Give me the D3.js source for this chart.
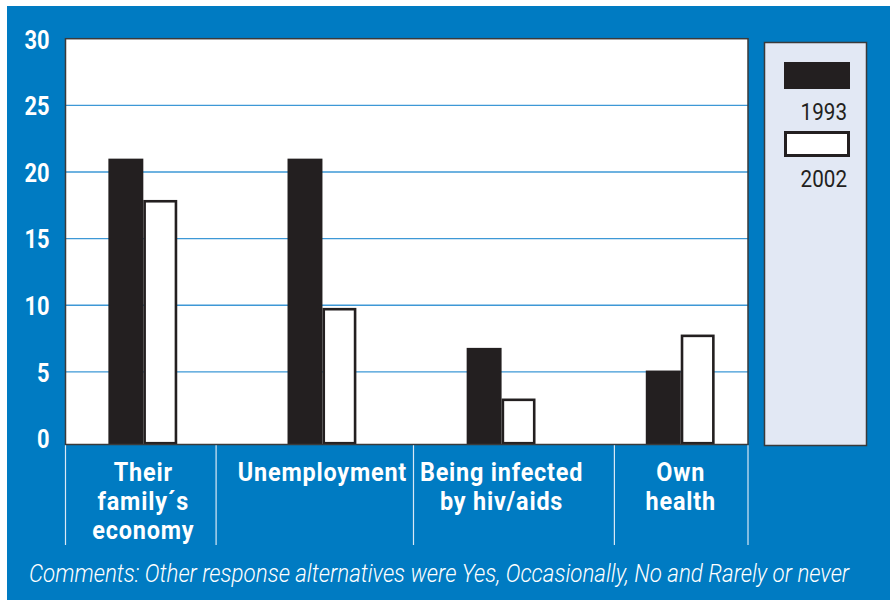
<!DOCTYPE html>
<html>
<head>
<meta charset="utf-8">
<script src="https://cdn.jsdelivr.net/npm/d3@7"></script>
<style>
  html, body { margin: 0; padding: 0; background: #ffffff; }
  svg { display: block; }
  text { font-family: Roboto, "Liberation Sans", "DejaVu Sans", sans-serif; }
</style>
</head>
<body>
<svg id="chart" width="890" height="600"></svg>
<script>
// Share of respondents worried about each issue, by survey year
const categories = [
  ["Their", "family\u00B4s", "economy"],
  ["Unemployment"],
  ["Being infected", "by hiv/aids"],
  ["Own", "health"]
];
const seriesNames = ["1993", "2002"];
const values1993 = [21, 21, 6.8, 5.1];
const values2002 = [17.9, 9.8, 3.0, 7.8];
const yTicks = [0, 5, 10, 15, 20, 25, 30];
const comment = "Comments: Other response alternatives were Yes, Occasionally, No and Rarely or never";

const BLUE = "#007bc2";
const INK = "#231f20";
const GRID = "#3d98d6";
// horizontal squeeze giving the condensed look of the typeface
const NARROW_TICK = 0.84;
const NARROW_CAT = 0.9;
const NARROW_REG = 0.86;
const NARROW_ITAL = 0.86;

const svg = d3.select("#chart");

// blue panel
svg.append("rect")
  .attr("x", 7).attr("y", 6)
  .attr("width", 883).attr("height", 594)
  .attr("fill", BLUE);

const plot = { left: 65.5, right: 748, top: 38.7, bottom: 444.5 };
const zeroY = 438.5;

const y = d3.scaleLinear().domain([0, 30]).range([zeroY, plot.top]);

const keys = categories.map((c, i) => i);
const x0 = d3.scaleBand()
  .domain(keys)
  .range([plot.left, plot.right])
  .paddingInner(0.61)
  .paddingOuter(0.21)
  .align(0.57);
const x1 = d3.scaleBand()
  .domain(seriesNames)
  .range([0, x0.bandwidth()]);

// plot background
svg.append("rect")
  .attr("x", plot.left).attr("y", plot.top)
  .attr("width", plot.right - plot.left)
  .attr("height", plot.bottom - plot.top)
  .attr("fill", "#ffffff");

// horizontal grid lines
svg.append("g")
  .selectAll("line")
  .data(yTicks.filter(t => t > 0 && t < 30))
  .join("line")
  .attr("x1", plot.left).attr("x2", plot.right)
  .attr("y1", d => y(d)).attr("y2", d => y(d))
  .attr("stroke", GRID)
  .attr("stroke-width", 1.4);

// bars
const rows = keys.map(i => ({ i, v1993: values1993[i], v2002: values2002[i] }));
const groups = svg.append("g")
  .selectAll("g")
  .data(rows)
  .join("g")
  .attr("transform", d => `translate(${x0(d.i)},0)`);

groups.append("rect")
  .attr("x", x1("1993"))
  .attr("y", d => y(d.v1993))
  .attr("width", x1.bandwidth())
  .attr("height", d => plot.bottom - y(d.v1993))
  .attr("fill", INK);

const sw = 2.6;
groups.append("rect")
  .attr("x", x1("2002") + sw / 2)
  .attr("y", d => y(d.v2002) + sw / 2)
  .attr("width", x1.bandwidth() - sw - 1)
  .attr("height", d => plot.bottom - sw / 2 - y(d.v2002) - sw / 2)
  .attr("fill", "#ffffff")
  .attr("stroke", INK)
  .attr("stroke-width", sw);

// plot frame
svg.append("rect")
  .attr("x", plot.left).attr("y", plot.top)
  .attr("width", plot.right - plot.left)
  .attr("height", plot.bottom - plot.top)
  .attr("fill", "none")
  .attr("stroke", "#3a3a3a")
  .attr("stroke-width", 1.5);

// y axis labels
const yAxis = d3.axisLeft(y).tickValues(yTicks).tickSize(0).tickPadding(0);
const gy = svg.append("g")
  .attr("transform", `translate(49.5,0)`)
  .call(yAxis);
gy.select(".domain").remove();
gy.selectAll("text")
  .attr("fill", "#ffffff")
  .attr("x", 0)
  .attr("dy", "0.36em")
  .attr("transform", `scale(${NARROW_TICK},1)`)
  .style("font-size", "26px")
  .style("font-weight", "bold")
  .style("font-family", null);

// category labels
const labelG = svg.append("g");
const extents = [];
keys.forEach(i => {
  const cx = x0(i) + x0.bandwidth() / 2;
  const g = labelG.append("g")
    .attr("transform", `translate(${cx},0) scale(${NARROW_CAT},1)`);
  const t = g.append("text")
    .attr("text-anchor", "middle")
    .attr("fill", "#ffffff")
    .style("font-size", "26px")
    .style("font-weight", "bold")
    .style("letter-spacing", "0.9px");
  categories[i].forEach((line, k) => {
    t.append("tspan")
      .attr("x", 0)
      .attr("y", 481.5 + k * 28.8)
      .text(line);
  });
  const b = t.node().getBBox();
  extents.push([cx + b.x * NARROW_CAT, cx + (b.x + b.width) * NARROW_CAT]);
});

// separators between category labels, midway between neighbouring labels
const seps = [plot.left];
for (let k = 0; k < extents.length - 1; k++) {
  seps.push((extents[k][1] + extents[k + 1][0]) / 2);
}
seps.push(plot.right);
svg.append("g")
  .selectAll("line")
  .data(seps)
  .join("line")
  .attr("x1", d => d).attr("x2", d => d)
  .attr("y1", plot.bottom + 0.75).attr("y2", 545)
  .attr("stroke", "#d8e8f5")
  .attr("stroke-width", 1.2);

// legend
const legend = svg.append("g");
legend.append("rect")
  .attr("x", 764.5).attr("y", 42.5)
  .attr("width", 102).attr("height", 403)
  .attr("fill", "#e2e8f4")
  .attr("stroke", "#3a3a3a")
  .attr("stroke-width", 1.5);
legend.append("rect")
  .attr("x", 784).attr("y", 62)
  .attr("width", 66).attr("height", 27)
  .attr("fill", INK);
legend.append("rect")
  .attr("x", 785.5).attr("y", 132.5)
  .attr("width", 63).attr("height", 23)
  .attr("fill", "#ffffff")
  .attr("stroke", INK)
  .attr("stroke-width", 3);
legend.selectAll("g.year")
  .data(seriesNames)
  .join("g")
  .attr("class", "year")
  .attr("transform", (d, i) => `translate(847,${120 + i * 67}) scale(${NARROW_REG},1)`)
  .append("text")
  .attr("text-anchor", "end")
  .attr("fill", INK)
  .style("font-size", "24px")
  .text(d => d);

// footnote
svg.append("g")
  .attr("transform", `translate(29,582) scale(${NARROW_ITAL},1)`)
  .append("text")
  .attr("fill", "#ffffff")
  .style("font-size", "26px")
  .style("font-style", "italic")
  .style("font-weight", 300)
  .text(comment);
</script>
</body>
</html>
